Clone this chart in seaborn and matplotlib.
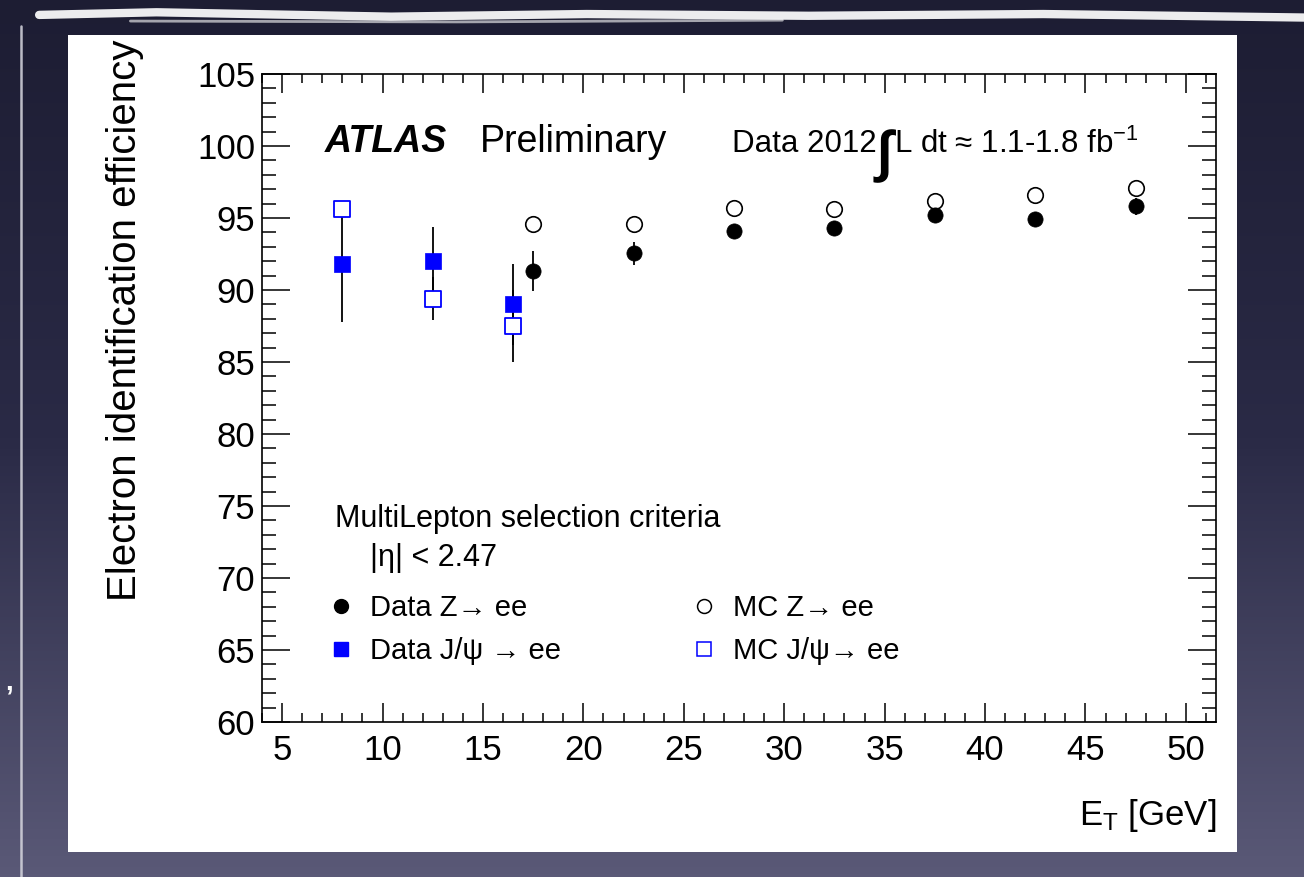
import numpy as np
import pandas as pd
import matplotlib
matplotlib.use("Agg")
import matplotlib.pyplot as plt
from matplotlib.colors import LinearSegmentedColormap
from matplotlib.lines import Line2D
from matplotlib.patches import Rectangle
from matplotlib.ticker import MultipleLocator
import seaborn as sns

# ---- data -------------------------------------------------------------
z_et = [17.5, 22.5, 27.5, 32.5, 37.5, 42.5, 47.5]
z_data_eff = [91.3, 92.55, 94.1, 94.3, 95.2, 94.95, 95.8]
z_data_err = [1.4, 0.8, 0.3, 0.3, 0.3, 0.3, 0.6]
z_mc_eff = [94.55, 94.6, 95.7, 95.6, 96.15, 96.6, 97.05]

jpsi_et = [8.0, 12.5, 16.5]
jpsi_data_eff = [91.8, 92.0, 89.0]
jpsi_data_err = [4.0, 2.4, 2.8]
jpsi_mc_eff = [95.65, 89.4, 87.5]
jpsi_mc_err = [0.3, 1.5, 2.5]

x_ticks = [5, 10, 15, 20, 25, 30, 35, 40, 45, 50]
y_ticks = [60, 65, 70, 75, 80, 85, 90, 95, 100, 105]

series_labels = ["Data Z\u2192 ee", "Data J/\u03c8 \u2192 ee",
                 "MC Z\u2192 ee", "MC J/\u03c8\u2192 ee"]

# ---- style --------------------------------------------------------------
sns.set_theme(style="ticks")
plt.rcParams["font.family"] = ["Liberation Sans", "DejaVu Sans"]
plt.rcParams["mathtext.fontset"] = "custom"
plt.rcParams["mathtext.rm"] = "Liberation Sans"
plt.rcParams["mathtext.it"] = "Liberation Sans:italic"
plt.rcParams["mathtext.bf"] = "Liberation Sans:bold"
plt.rcParams["mathtext.sf"] = "Liberation Sans"
for key in ["text.color", "axes.labelcolor", "xtick.color", "ytick.color", "axes.edgecolor"]:
    plt.rcParams[key] = "black"

fig = plt.figure(figsize=(13.04, 8.77), dpi=100)

# slide backdrop with a white panel holding the plot
bg = fig.add_axes([0, 0, 1, 1], zorder=-10)
grad = np.linspace(0, 1, 256).reshape(-1, 1)
cmap_bg = LinearSegmentedColormap.from_list("slide", ["#1d1d33", "#2a2a46", "#5a5977"])
bg.imshow(grad, aspect="auto", extent=[0, 1, 0, 1], cmap=cmap_bg, origin="upper")
bg.plot([0.03, 0.12, 0.3, 0.45, 0.62, 0.8, 1.0], [0.983, 0.986, 0.981, 0.984, 0.982, 0.984, 0.980],
        color="white", lw=6, solid_capstyle="round", alpha=0.92)
bg.plot([0.1, 0.35, 0.6], [0.976, 0.975, 0.977], color="white", lw=2, alpha=0.6)
bg.plot([0.016, 0.016], [0.0, 0.97], color="#d8d8e0", lw=1.8, alpha=0.85)
bg.text(0.004, 1 - 690 / 877, ",", color="white", fontsize=20, fontweight="bold")
bg.add_patch(Rectangle((68 / 1304, 1 - 852 / 877), (1237 - 68) / 1304, (852 - 35) / 877,
                       facecolor="white", edgecolor="none", zorder=2))
bg.set_xlim(0, 1)
bg.set_ylim(0, 1)
bg.axis("off")

ax = fig.add_axes([262 / 1304, 1 - 722 / 877, 954 / 1304, 648 / 877], zorder=1)
ax.set_facecolor("white")

z_df = pd.DataFrame({"et": z_et, "data": z_data_eff, "mc": z_mc_eff})
j_df = pd.DataFrame({"et": jpsi_et, "data": jpsi_data_eff, "mc": jpsi_mc_eff})

blue = "#0000ff"

# error bars
ax.errorbar(jpsi_et, jpsi_mc_eff, yerr=jpsi_mc_err, fmt="none", ecolor="black",
            elinewidth=1.3, capsize=0, zorder=2)
ax.errorbar(jpsi_et, jpsi_data_eff, yerr=jpsi_data_err, fmt="none", ecolor="black",
            elinewidth=1.3, capsize=0, zorder=2)
ax.errorbar(z_et, z_data_eff, yerr=z_data_err, fmt="none", ecolor="black",
            elinewidth=1.3, capsize=0, zorder=2)

# markers
sns.scatterplot(data=z_df, x="et", y="mc", ax=ax, marker="o", s=125,
                facecolor="white", edgecolor="black", linewidth=1.2, zorder=3)
sns.scatterplot(data=j_df, x="et", y="mc", ax=ax, marker="s", s=125,
                facecolor="white", edgecolor=blue, linewidth=1.3, zorder=3)
sns.scatterplot(data=z_df, x="et", y="data", ax=ax, marker="o", s=120,
                color="black", edgecolor="black", linewidth=0.5, zorder=4)
sns.scatterplot(data=j_df, x="et", y="data", ax=ax, marker="s", s=125,
                color=blue, edgecolor=blue, linewidth=0.5, zorder=4)

# axes
ax.set_xlim(4.0, 51.5)
ax.set_ylim(60, 105)
ax.set_xticks(x_ticks)
ax.set_yticks(y_ticks)
ax.xaxis.set_minor_locator(MultipleLocator(1))
ax.yaxis.set_minor_locator(MultipleLocator(1))
ax.tick_params(axis="both", which="both", direction="in", top=True, right=True,
               color="black", labelcolor="black", width=1.1)
ax.tick_params(axis="x", which="major", length=13.5, labelsize=25, pad=9)
ax.tick_params(axis="x", which="minor", length=6.8)
ax.tick_params(axis="y", which="major", length=20, labelsize=25, pad=5)
ax.tick_params(axis="y", which="minor", length=10)
for sp in ax.spines.values():
    sp.set_linewidth(1.2)
    sp.set_color("black")
ax.set_xlabel("")
ax.set_ylabel("")

fig.text(1216 / 1304, 1 - 815 / 877, r"E$_\mathrm{T}$ [GeV]", ha="right", va="center",
         fontsize=25)
fig.text(125 / 1304, 1 - 40 / 877, "Electron identification efficiency", rotation=90,
         ha="center", va="top", fontsize=29)

# annotations
ax.text(0.066, 0.8946, "ATLAS", transform=ax.transAxes, fontsize=27,
        fontweight="bold", fontstyle="italic", va="center", ha="left")
ax.text(0.228, 0.8946, "Preliminary", transform=ax.transAxes, fontsize=27,
        va="center", ha="left")
ax.text(0.4927, 0.8915, "Data 2012", transform=ax.transAxes, fontsize=22.5,
        va="center", ha="left")
ax.text((884 - 262) / 954, 0.873, "\u222b", transform=ax.transAxes, fontsize=40,
        va="center", ha="center", fontweight="bold")
ax.text((894 - 262) / 954, 0.8915, "L dt \u2248 1.1-1.8 fb$^{-1}$", transform=ax.transAxes,
        fontsize=22.5, va="center", ha="left")
ax.text(0.0764, 0.313, "MultiLepton selection criteria", transform=ax.transAxes,
        fontsize=22, va="center", ha="left")
ax.text(0.113, 0.2527, "|\u03b7| < 2.47", transform=ax.transAxes,
        fontsize=22, va="center", ha="left")

# legend in two columns
h_data_z = Line2D([], [], ls="none", marker="o", ms=10, mfc="black", mec="black")
h_data_j = Line2D([], [], ls="none", marker="s", ms=10, mfc=blue, mec=blue)
h_mc_z = Line2D([], [], ls="none", marker="o", ms=10, mfc="white", mec="black", mew=1.1)
h_mc_j = Line2D([], [], ls="none", marker="s", ms=10, mfc="white", mec=blue, mew=1.1)

leg_kw = dict(frameon=False, fontsize=21, handlelength=1.0, handletextpad=0.5,
              labelspacing=0.5, borderaxespad=0, borderpad=0, loc="upper left")
leg1 = ax.legend([h_data_z, h_data_j], series_labels[:2],
                 bbox_to_anchor=(0.067, 0.197), **leg_kw)
ax.add_artist(leg1)
ax.legend([h_mc_z, h_mc_j], series_labels[2:], bbox_to_anchor=(0.448, 0.197), **leg_kw)

fig.savefig("out.png", dpi=100)
